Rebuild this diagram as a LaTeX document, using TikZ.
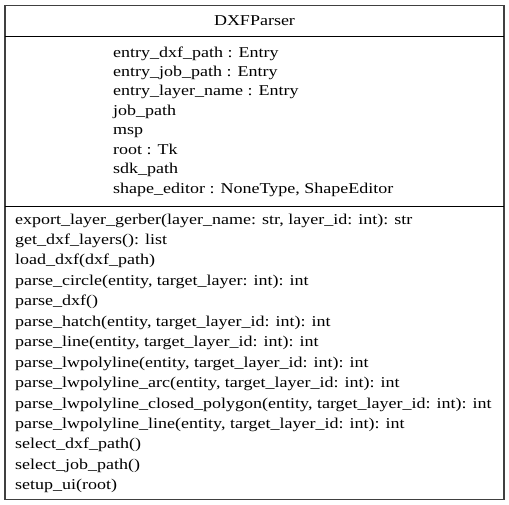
\documentclass[tikz,border=0pt]{standalone}
\usepackage{fontspec}
\setmainfont{Liberation Serif}[FakeStretch=1.2]
\begin{document}
\begin{tikzpicture}[x=1pt,y=-1pt,
  txt/.style={anchor=base west,inner sep=0pt,font=\fontsize{15}{17}\selectfont},
  frame/.style={draw=black!75,line width=1.2pt},
  sep/.style={draw=black,line width=1pt}]
\useasboundingbox (0,0) rectangle (509,504);
\draw[frame] (5,5.5) rectangle (504,499.5);
\draw[sep] (5,36) -- (504,36);
\draw[sep] (5,206.5) -- (504,206.5);
\node[txt,anchor=base] (title) at (254.5,25) {DXFParser};
\foreach \t [count=\i] in {
  {entry\_dxf\_path : Entry},
  {entry\_job\_path : Entry},
  {entry\_layer\_name : Entry},
  {job\_path},
  {msp},
  {root : Tk},
  {sdk\_path},
  {shape\_editor : NoneType, ShapeEditor}}
  \node[txt] (a\i) at (113,{57+19.43*(\i-1)}) {\t};
\foreach \t [count=\i] in {
  {export\_layer\_gerber(layer\_name: str, layer\_id: int): str},
  {get\_dxf\_layers(): list},
  {load\_dxf(dxf\_path)},
  {parse\_circle(entity, target\_layer: int): int},
  {parse\_dxf()},
  {parse\_hatch(entity, target\_layer\_id: int): int},
  {parse\_line(entity, target\_layer\_id: int): int},
  {parse\_lwpolyline(entity, target\_layer\_id: int): int},
  {parse\_lwpolyline\_arc(entity, target\_layer\_id: int): int},
  {parse\_lwpolyline\_closed\_polygon(entity, target\_layer\_id: int): int},
  {parse\_lwpolyline\_line(entity, target\_layer\_id: int): int},
  {select\_dxf\_path()},
  {select\_job\_path()},
  {setup\_ui(root)}}
  \node[txt] (m\i) at (15,{224+20.45*(\i-1)}) {\t};
\end{tikzpicture}
\end{document}
